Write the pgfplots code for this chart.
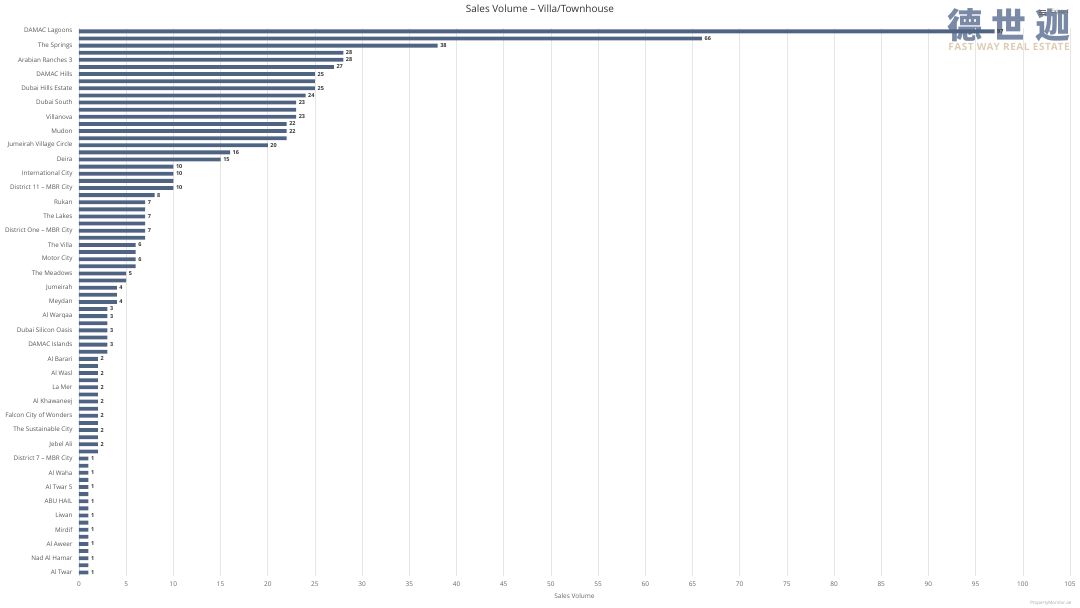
\documentclass[border=0pt]{standalone}
\usepackage{pgfplots}
\pgfplotsset{compat=1.18}
\usepackage{pgfplotstable}
\usepackage{fontspec}
\setmainfont{Open Sans}
\newfontfamily\cjk{Noto Sans CJK SC}
\definecolor{barcol}{HTML}{4F6382}
\definecolor{gridcol}{HTML}{E6E6E6}
\definecolor{axiscol}{HTML}{CCD6EB}
\definecolor{tickcol}{HTML}{666666}
\definecolor{labcol}{HTML}{555555}
\definecolor{titlecol}{HTML}{333333}
\definecolor{logocol}{HTML}{7A89A6}
\definecolor{tancol}{HTML}{DCCDB5}

\pgfplotstableread{
idx val
0 97
1 66
2 38
3 28
4 28
5 27
6 25
7 25
8 25
9 24
10 23
11 23
12 23
13 22
14 22
15 22
16 20
17 16
18 15
19 10
20 10
21 10
22 10
23 8
24 7
25 7
26 7
27 7
28 7
29 7
30 6
31 6
32 6
33 6
34 5
35 5
36 4
37 4
38 4
39 3
40 3
41 3
42 3
43 3
44 3
45 3
46 2
47 2
48 2
49 2
50 2
51 2
52 2
53 2
54 2
55 2
56 2
57 2
58 2
59 2
60 1
61 1
62 1
63 1
64 1
65 1
66 1
67 1
68 1
69 1
70 1
71 1
72 1
73 1
74 1
75 1
76 1
}\bars

\pgfplotstableread{
idx val
0 97
1 66
2 38
3 28
4 28
5 27
6 25
8 25
9 24
10 23
12 23
13 22
14 22
16 20
17 16
18 15
19 10
20 10
22 10
23 8
24 7
26 7
28 7
30 6
32 6
34 5
36 4
38 4
39 3
40 3
42 3
44 3
46 2
48 2
50 2
52 2
54 2
56 2
58 2
60 1
62 1
64 1
66 1
68 1
70 1
72 1
74 1
76 1
}\labs

\begin{document}
\begin{tikzpicture}[x=1pt,y=1pt]
\useasboundingbox (0,0) rectangle (1080,608);
\node[font=\cjk\bfseries\fontsize{35}{36}\selectfont, text=logocol] at (965,583) {德};
\node[font=\cjk\bfseries\fontsize{35}{36}\selectfont, text=logocol] at (1009,583) {世};
\node[font=\cjk\bfseries\fontsize{35}{36}\selectfont, text=logocol] at (1053,583) {迦};
\node[font=\fontsize{10}{11}\selectfont\bfseries\addfontfeature{LetterSpace=6}, text=tancol] at (1009,561) {FAST WAY REAL ESTATE};
\begin{axis}[
  at={(79pt,32pt)}, anchor=south west,
  scale only axis, width=991pt, height=548.2pt,
  xmin=0, xmax=105, ymin=-0.5, ymax=76.5, y dir=reverse,
  xtick={0,5,...,105},
  ytick={0,2,...,76},
  yticklabels={DAMAC Lagoons,The Springs,Arabian Ranches 3,DAMAC Hills,Dubai Hills Estate,Dubai South,Villanova,Mudon,Jumeirah Village Circle,Deira,International City,District 11 – MBR City,Rukan,The Lakes,District One – MBR City,The Villa,Motor City,The Meadows,Jumeirah,Meydan,Al Warqaa,Dubai Silicon Oasis,DAMAC Islands,Al Barari,Al Wasl,La Mer,Al Khawaneej,Falcon City of Wonders,The Sustainable City,Jebel Ali,District 7 – MBR City,Al Waha,Al Twar 5,ABU HAIL,Liwan,Mirdif,Al Aweer,Nad Al Hamar,Al Twar},
  xmajorgrids, ymajorgrids=false,
  grid style={draw=gridcol, line width=0.6pt},
  axis line style={draw=none},
  major tick length=0pt, tick style={draw=none},
  /pgf/number format/assume math mode=true,
  xticklabel style={font=\fontsize{6.5}{7}\selectfont, text=tickcol, yshift=-2.5pt},
  yticklabel style={font=\fontsize{6.3}{7}\selectfont, text=labcol, xshift=-3pt},
  xlabel={Sales Volume},
  xlabel style={font=\fontsize{6.5}{7}\selectfont, text=tickcol, yshift=0pt},
  clip=false,
]
\draw[axiscol, line width=0.8pt] (axis cs:0,-0.5) -- (axis cs:0,76.5);
\addplot[xbar, bar shift=0pt, bar width=3.8pt, fill=barcol, draw=none] table[x=val, y=idx] {\bars};
\addplot[only marks, mark=none, point meta=x, nodes near coords,
  every node near coord/.style={anchor=west, xshift=1.5pt, font=\fontsize{5.5}{6}\selectfont\bfseries, text=titlecol, inner sep=1pt}]
  table[x=val, y=idx] {\labs};
\end{axis}
\node[font=\fontsize{10}{12}\selectfont, text=titlecol] at (540,599) {Sales Volume – Villa/Townhouse};
\node[font=\fontsize{6}{7}\selectfont, text=tickcol, anchor=west] at (1047,596) {Export};
\foreach \yy in {594,596,598} \draw[tickcol, line width=0.6pt] (1039,\yy) -- (1046,\yy);
\node[font=\fontsize{4.5}{5}\selectfont, text=gray!70, anchor=east] at (1075,5) {PropertyMonitor.ae};
\end{tikzpicture}
\end{document}
